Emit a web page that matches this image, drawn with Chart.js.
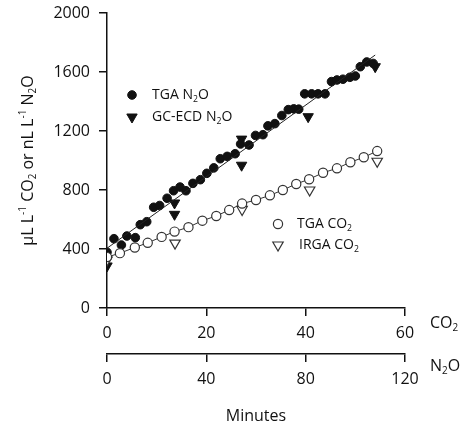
<!DOCTYPE html>
<html>
<head>
<meta charset="utf-8">
<script src="https://cdn.jsdelivr.net/npm/chart.js@4/dist/chart.umd.min.js"></script>
<style>
  html, body { margin: 0; padding: 0; background: #fff; }
  #wrap { width: 466px; height: 428px; }
</style>
</head>
<body>
<div id="wrap"><canvas id="gasChart"></canvas></div>
<script>
// x values are on the CO2 time axis (minutes); the N2O axis below is twice that
const tgaN2oMin = [0, 1.4, 2.9, 4.0, 5.7, 6.7, 8.0, 9.4, 10.6, 12.1, 13.4, 14.7, 15.9, 17.3, 18.8, 20.1, 21.5, 22.8, 24.2, 25.8, 26.9, 28.6, 29.9, 31.4, 32.4, 33.8, 35.2, 36.5, 37.6, 38.6, 39.8, 41.2, 42.5, 43.9, 45.2, 46.3, 47.5, 48.9, 50.0, 51.0, 52.3, 53.6];
const tgaN2oVal = [378, 470, 427, 488, 477, 565, 585, 683, 695, 744, 795, 820, 795, 845, 870, 913, 950, 1012, 1028, 1046, 1112, 1105, 1170, 1175, 1235, 1250, 1305, 1345, 1350, 1348, 1452, 1452, 1452, 1452, 1535, 1546, 1551, 1564, 1573, 1636, 1668, 1658];

const gcN2oMin = [0, 13.6, 13.6, 27.1, 27.1, 40.5, 54.0];
const gcN2oVal = [285, 712, 635, 1145, 968, 1297, 1636];

const tgaCo2Min = [0, 2.6, 5.6, 8.2, 11.0, 13.6, 16.4, 19.2, 22.0, 24.6, 27.2, 30.0, 32.8, 35.4, 38.1, 40.7, 43.5, 46.3, 49.0, 51.7, 54.4];
const tgaCo2Val = [345, 372, 410, 442, 482, 518, 548, 592, 624, 664, 708, 732, 764, 800, 841, 873, 917, 947, 988, 1022, 1064];

const irgaCo2Min = [0, 13.7, 27.2, 40.8, 54.4];
const irgaCo2Val = [325, 440, 668, 800, 995];

// fitted line through TGA N2O
const n2oFitStart = [0, 405];
const n2oFitEnd = [54, 1715];

const co2AxisTicks = [0, 20, 40, 60];
const n2oAxisTicks = [0, 40, 80, 120];
const yTicks = [0, 400, 800, 1200, 1600, 2000];

const toPts = (xs, ys) => xs.map((x, i) => ({ x: x, y: ys[i] }));

const INK = '#111';
const FONT = '"Open Sans", "DejaVu Sans", sans-serif';

const styles = {
  tgaN2o: { pointStyle: 'circle', radius: 4.3, rotation: 0, fill: INK, stroke: INK, bw: 1 },
  gcN2o: { pointStyle: 'triangle', radius: 6, rotation: 180, fill: INK, stroke: INK, bw: 1 },
  tgaCo2: { pointStyle: 'circle', radius: 4.6, rotation: 0, fill: '#fff', stroke: '#333', bw: 1.2 },
  irgaCo2: { pointStyle: 'triangle', radius: 6, rotation: 180, fill: '#fff', stroke: '#333', bw: 1.2 }
};

// draws text with sub/superscript pieces: parts = [[text, ''|'sub'|'sup'], ...]
function richWidth(ctx, parts, size) {
  let w = 0;
  parts.forEach(p => {
    const s = p[1] ? size * 0.62 : size;
    ctx.font = s + 'px ' + FONT;
    w += ctx.measureText(p[0]).width;
  });
  return w;
}
function drawRich(ctx, parts, x, y, size, align) {
  let cx = x;
  if (align === 'center') cx = x - richWidth(ctx, parts, size) / 2;
  ctx.textBaseline = 'middle';
  ctx.textAlign = 'left';
  parts.forEach(p => {
    const s = p[1] ? size * 0.62 : size;
    let dy = 0;
    if (p[1] === 'sub') dy = size * 0.3;
    if (p[1] === 'sup') dy = -size * 0.32;
    ctx.font = s + 'px ' + FONT;
    ctx.fillText(p[0], cx, y + dy);
    cx += ctx.measureText(p[0]).width;
  });
}

function marker(ctx, st, x, y) {
  ctx.save();
  ctx.fillStyle = st.fill;
  ctx.strokeStyle = st.stroke;
  ctx.lineWidth = st.bw;
  Chart.helpers.drawPoint(ctx, { pointStyle: st.pointStyle, radius: st.radius, rotation: st.rotation, borderWidth: st.bw }, x, y);
  ctx.restore();
}

const extrasPlugin = {
  id: 'extras',
  afterDraw(chart) {
    const ctx = chart.ctx;
    const xs = chart.scales.x, xs2 = chart.scales.x2;
    ctx.save();
    ctx.fillStyle = INK;

    // y title, rotated
    ctx.save();
    ctx.translate(28, (chart.chartArea.top + chart.chartArea.bottom) / 2);
    ctx.rotate(-Math.PI / 2);
    drawRich(ctx, [['\u00b5L L', ''], ['-1', 'sup'], [' CO', ''], ['2', 'sub'], [' or nL L', ''], ['-1', 'sup'], [' N', ''], ['2', 'sub'], ['O', '']], 0, 0, 16, 'center');
    ctx.restore();

    // names at the right end of the two time axes
    drawRich(ctx, [['CO', ''], ['2', 'sub']], xs.right + 25, xs.top + 15, 16, 'left');
    drawRich(ctx, [['N', ''], ['2', 'sub'], ['O', '']], xs2.right + 25, xs2.top + 12, 16, 'left');

    // upper legend
    marker(ctx, styles.tgaN2o, 132, 95);
    drawRich(ctx, [['TGA N', ''], ['2', 'sub'], ['O', '']], 152, 95, 14, 'left');
    marker(ctx, styles.gcN2o, 132, 117);
    drawRich(ctx, [['GC-ECD N', ''], ['2', 'sub'], ['O', '']], 152, 117, 14, 'left');

    // lower legend
    marker(ctx, styles.tgaCo2, 278, 224);
    drawRich(ctx, [['TGA CO', ''], ['2', 'sub']], 297, 224, 14, 'left');
    marker(ctx, styles.irgaCo2, 278, 245);
    drawRich(ctx, [['IRGA CO', ''], ['2', 'sub']], 299, 245, 14, 'left');
    ctx.restore();
  }
};

function ds(label, pts, st, extra) {
  return Object.assign({
    label: label,
    data: pts,
    pointStyle: st.pointStyle,
    pointRadius: st.radius,
    pointRotation: st.rotation,
    pointBackgroundColor: st.fill,
    pointBorderColor: st.stroke,
    pointBorderWidth: st.bw,
    showLine: false,
    xAxisID: 'x',
    yAxisID: 'y'
  }, extra || {});
}

const axisGrid = { drawOnChartArea: false, drawTicks: true, tickLength: 8, color: INK, lineWidth: 1.5 };
const axisBorder = { display: true, color: INK, width: 1.5 };
const tickFont = { family: FONT, size: 16 };
const plainNum = v => String(v);

new Chart(document.getElementById('gasChart'), {
  type: 'scatter',
  data: {
    datasets: [
      {
        label: 'N2O fit',
        data: [{ x: n2oFitStart[0], y: n2oFitStart[1] }, { x: n2oFitEnd[0], y: n2oFitEnd[1] }],
        showLine: true,
        borderColor: '#222',
        borderWidth: 1,
        pointRadius: 0,
        xAxisID: 'x',
        yAxisID: 'y'
      },
      ds('TGA CO2', toPts(tgaCo2Min, tgaCo2Val), styles.tgaCo2, { showLine: true, borderColor: '#333', borderWidth: 1 }),
      ds('IRGA CO2', toPts(irgaCo2Min, irgaCo2Val), styles.irgaCo2),
      ds('TGA N2O', toPts(tgaN2oMin, tgaN2oVal), styles.tgaN2o),
      ds('GC-ECD N2O', toPts(gcN2oMin, gcN2oVal), styles.gcN2o)
    ]
  },
  options: {
    responsive: true,
    maintainAspectRatio: false,
    animation: false,
    layout: { padding: { top: 13, right: 61, bottom: 0, left: 0 } },
    plugins: { legend: { display: false }, tooltip: { enabled: false } },
    scales: {
      y: {
        type: 'linear',
        min: 0, max: 2000,
        afterBuildTicks: s => { s.ticks = yTicks.map(v => ({ value: v })); },
        grid: axisGrid,
        border: axisBorder,
        ticks: { color: INK, font: tickFont, padding: 9, callback: plainNum },
        afterFit: s => { s.width = 107; s.paddingTop = 0; s.paddingBottom = 0; }
      },
      x: {
        type: 'linear',
        position: 'bottom',
        min: 0, max: 60,
        afterBuildTicks: s => { s.ticks = co2AxisTicks.map(v => ({ value: v })); },
        grid: axisGrid,
        border: axisBorder,
        ticks: { color: INK, font: tickFont, padding: 8, callback: plainNum },
        afterFit: s => { s.height = 46; }
      },
      x2: {
        type: 'linear',
        position: 'bottom',
        min: 0, max: 120,
        afterBuildTicks: s => { s.ticks = n2oAxisTicks.map(v => ({ value: v })); },
        grid: axisGrid,
        border: axisBorder,
        ticks: { color: INK, font: tickFont, padding: 8, callback: plainNum },
        title: { display: true, text: 'Minutes', color: INK, font: { family: FONT, size: 16 }, padding: { top: 4, bottom: 2 } },
        afterFit: s => { s.height = 74; }
      }
    }
  },
  plugins: [extrasPlugin]
});
</script>
</body>
</html>
